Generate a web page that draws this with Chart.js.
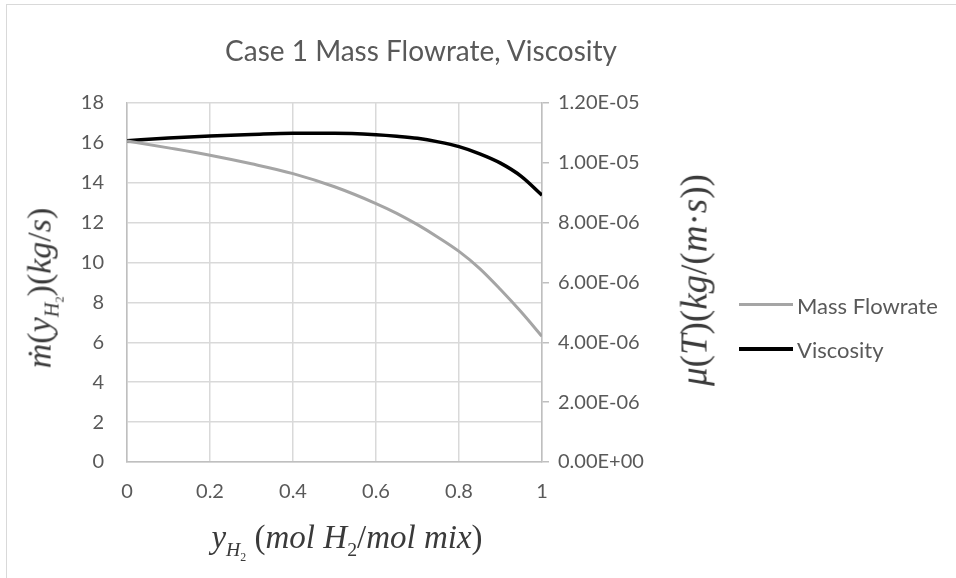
<!DOCTYPE html>
<html>
<head>
<meta charset="utf-8">
<script src="https://cdn.jsdelivr.net/npm/chart.js@4.4.1/dist/chart.umd.min.js"></script>
<style>
    html, body { margin: 0; padding: 0; background: #fff; }
    #wrap { position: relative; width: 956px; height: 578px; overflow: hidden; font-family: 'Lato', sans-serif; }
    #frame { position: absolute; left: 6px; top: 4px; width: 1000px; height: 700px; border: 1px solid #d9d9d9; box-sizing: border-box; }
    canvas { position: absolute; left: 0; top: 0; }
    .txt { position: absolute; white-space: nowrap; color: #595959; }
    #title { left: 421px; top: 50px; transform: translate(-50%, -50%); font-size: 28px; }
    .math { font-family: 'Liberation Serif', serif; color: #3a3a3a; }
    .math sub { font-size: 0.6em; }
    #xTitle { left: 347px; top: 542px; transform: translate(-50%, -50%); font-size: 33px; }
    #yTitle { left: 44px; top: 288px; transform: translate(-50%, -50%) rotate(-90deg); font-size: 34px; }
    #y1Title { left: 694px; top: 280px; transform: translate(-50%, -50%) rotate(-90deg); font-size: 37px; }
    .leg { position: absolute; left: 739px; width: 54px; height: 3px; }
    .legTxt { left: 797px; font-size: 22px; transform: translateY(-50%); }
</style>
</head>
<body>
<div id="wrap">
    <div id="frame"></div>
    <canvas id="chart" width="956" height="578"></canvas>
    <div class="txt" id="title">Case 1 Mass Flowrate, Viscosity</div>
    <div class="txt math" id="xTitle"><i>y</i><sub><i>H</i><sub>2</sub></sub> (<i>mol H</i><sub>2</sub>/<i>mol mix</i>)</div>
    <div class="txt math" id="yTitle"><i>ṁ</i>(<i>y</i><sub><i>H</i><sub>2</sub></sub>)(<i>kg</i>/<i>s</i>)</div>
    <div class="txt math" id="y1Title"><i>μ</i>(<i>T</i>)(<i>kg</i>/(<i>m</i>·<i>s</i>))</div>
    <div class="leg" style="top:303px;background:#a5a5a5"></div>
    <div class="txt legTxt" style="top:305px">Mass Flowrate</div>
    <div class="leg" style="top:347px;height:4px;background:#000"></div>
    <div class="txt legTxt" style="top:349px">Viscosity</div>
</div>
<script>
// ── Data ─────────────────────────────────────────────────────────────
const yH2 = [0, 0.1, 0.2, 0.3, 0.4, 0.5, 0.6, 0.65, 0.7, 0.75, 0.8, 0.85, 0.9, 0.95, 1];
const massFlowrate = [16.1, 15.75, 15.38, 14.95, 14.46, 13.8, 12.96, 12.47, 11.9, 11.26, 10.56, 9.7, 8.65, 7.52, 6.3];
const viscosity = [1.074e-5, 1.083e-5, 1.090e-5, 1.095e-5, 1.099e-5, 1.099e-5, 1.094e-5, 1.089e-5, 1.082e-5, 1.070e-5, 1.054e-5, 1.030e-5, 0.999e-5, 0.955e-5, 0.892e-5];

const xTicks = [0, 0.2, 0.4, 0.6, 0.8, 1];

const tickFont = { family: 'Lato', size: 20 };
const tickColor = '#595959';

function sciLabel(v) {
    if (v === 0) return '0.00E+00';
    const exp = Math.floor(Math.log10(Math.abs(v)) + 1e-9);
    const mant = (v / Math.pow(10, exp)).toFixed(2);
    const sign = exp < 0 ? '-' : '+';
    return mant + 'E' + sign + String(Math.abs(exp)).padStart(2, '0');
}

new Chart(document.getElementById('chart'), {
    type: 'line',
    data: {
        datasets: [
            {
                label: 'Mass Flowrate',
                data: yH2.map((x, i) => ({ x, y: massFlowrate[i] })),
                borderColor: '#a5a5a5',
                borderWidth: 3,
                pointRadius: 0,
                cubicInterpolationMode: 'monotone',
                yAxisID: 'y',
            },
            {
                label: 'Viscosity',
                data: yH2.map((x, i) => ({ x, y: viscosity[i] })),
                borderColor: '#000000',
                borderWidth: 3.5,
                pointRadius: 0,
                cubicInterpolationMode: 'monotone',
                yAxisID: 'y1',
            }
        ]
    },
    options: {
        responsive: false,
        animation: false,
        layout: { padding: { top: 103, left: 0, right: 0, bottom: 0 } },
        plugins: {
            legend: { display: false },
            title: { display: false },
            tooltip: { enabled: false }
        },
        scales: {
            x: {
                type: 'linear',
                min: 0,
                max: 1,
                afterBuildTicks: s => { s.ticks = xTicks.map(v => ({ value: v })); },
                afterFit: s => { s.height = 116; },
                grid: { color: '#d9d9d9', lineWidth: 1.5, drawTicks: false },
                border: { color: '#bfbfbf', width: 1.5 },
                ticks: { font: tickFont, color: tickColor, padding: 18, callback: v => String(+v.toFixed(1)) }
            },
            y: {
                position: 'left',
                min: 0,
                max: 18,
                afterFit: s => { s.width = 127; },
                grid: { color: '#d9d9d9', lineWidth: 1.5, drawTicks: false },
                border: { color: '#bfbfbf', width: 1.5 },
                ticks: { stepSize: 2, font: tickFont, color: tickColor, padding: 23 }
            },
            y1: {
                position: 'right',
                min: 0,
                max: 1.2e-5,
                afterFit: s => { s.width = 414; },
                grid: { drawOnChartArea: false, color: '#bfbfbf', lineWidth: 1.5, tickLength: 7 },
                border: { color: '#bfbfbf', width: 1.5 },
                ticks: { stepSize: 2e-6, font: tickFont, color: tickColor, padding: 9, callback: v => sciLabel(v) }
            }
        }
    }
});
</script>
</body>
</html>
